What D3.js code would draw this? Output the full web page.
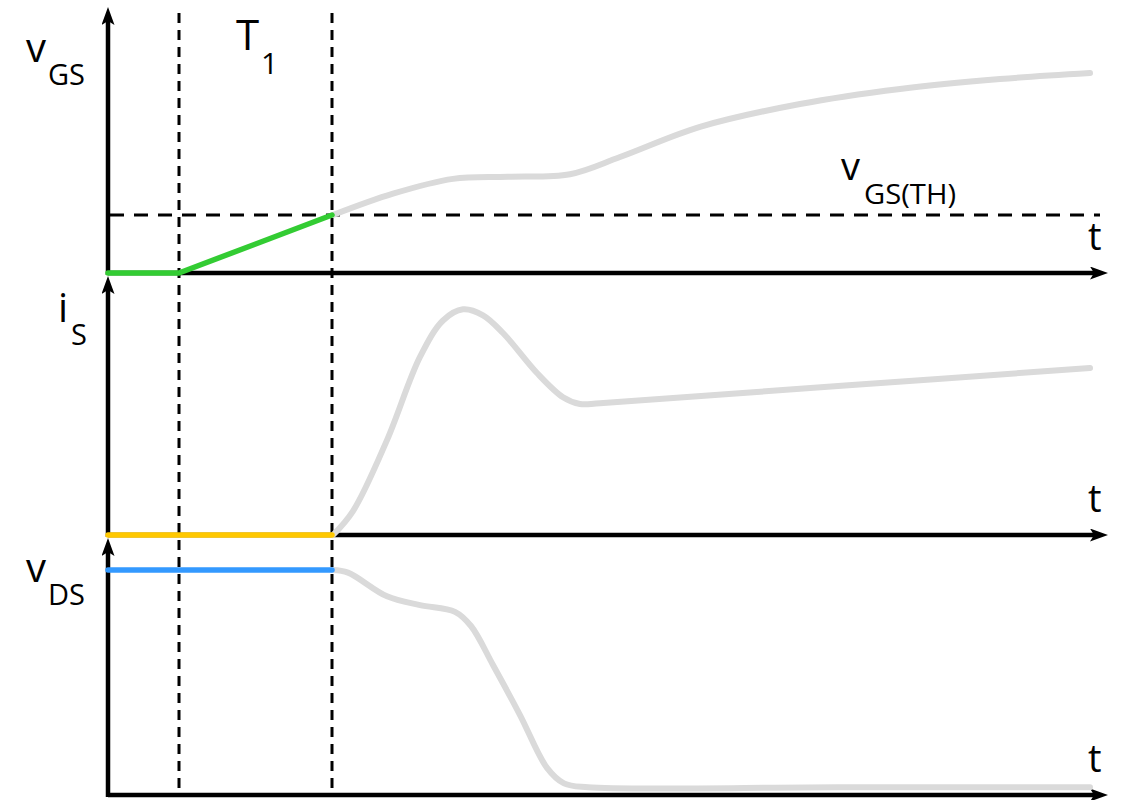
<!DOCTYPE html>
<html>
<head>
<meta charset="utf-8">
<script src="https://cdn.jsdelivr.net/npm/d3@7"></script>
<style>
  html, body { margin: 0; padding: 0; background: #fff; }
  svg { display: block; }
  text { font-family: "Open Sans", sans-serif; fill: #000; }
</style>
</head>
<body>
<svg id="chart" width="1123" height="800"></svg>
<script>
// Time axis (arbitrary units) and turn-on interval markers
const timeDomain = [0, 100];
const tStart = 7.1;    // start of T1
const tEnd = 22.4;     // end of T1
const vThreshold = 2.23;

// Gate-source voltage: highlighted portion during T1, then the rest of the transition
const vgsActive = [[0, 0], [7.1, 0], [22.4, 2.23]];
const vgsRest = [
  [22.5, 2.23], [28.5, 3.05], [34.5, 3.62], [40.0, 3.70], [46.2, 3.80],
  [51.2, 4.46], [59.2, 5.62], [69.2, 6.50], [79.2, 7.08], [89.2, 7.46], [98.2, 7.69]
];

// Source current
const isActive = [[0, 0], [22.4, 0]];
const isRest = [
  [22.5, 0], [24.5, 0.92], [27.9, 3.65], [31.2, 6.85], [33.5, 8.25], [35.5, 8.68],
  [37.5, 8.45], [39.5, 7.77], [42.9, 6.23], [45.5, 5.30], [47.2, 5.04], [49.2, 5.07],
  [73.7, 5.75], [98.2, 6.42]
];

// Drain-source voltage
const vdsActive = [[0, 8.72], [22.4, 8.72]];
const vdsRest = [
  [22.5, 8.72], [24.0, 8.62], [27.9, 7.70], [31.2, 7.36], [34.7, 7.10], [36.3, 6.55],
  [38.5, 5.04], [41.2, 3.10], [43.9, 1.05], [45.6, 0.45], [48.0, 0.30], [73.0, 0.30],
  [98.2, 0.30]
];

const svg = d3.select("#chart");

const x = d3.scaleLinear().domain(timeDomain).range([108, 1108]);
const yGS = d3.scaleLinear().domain([0, 10]).range([273, 13]);
const yIS = d3.scaleLinear().domain([0, 10]).range([535, 275]);
const yDS = d3.scaleLinear().domain([0, 10]).range([795, 537]);

// Arrowhead marker: tip sits 12px beyond the end of the axis line
const ARROW_EXT = 12;
const defs = svg.append("defs");
defs.append("marker")
  .attr("id", "arrow")
  .attr("viewBox", "0 0 18 13")
  .attr("refX", 18 - ARROW_EXT).attr("refY", 6.5)
  .attr("markerWidth", 18).attr("markerHeight", 13)
  .attr("markerUnits", "userSpaceOnUse")
  .attr("orient", "auto")
  .append("path")
  .attr("d", "M0,0 L18,6.5 L0,13 L4,6.5 Z")
  .attr("fill", "#000");

// Dashed guides: T1 boundaries and threshold level
const guides = svg.append("g").attr("stroke", "#000").attr("fill", "none");
[tStart, tEnd].forEach(t => {
  guides.append("line")
    .attr("x1", x(t)).attr("x2", x(t))
    .attr("y1", 13).attr("y2", 795)
    .attr("stroke-width", 3)
    .attr("stroke-dasharray", "10 7");
});
guides.append("line")
  .attr("x1", 110).attr("x2", 1100)
  .attr("y1", yGS(vThreshold)).attr("y2", yGS(vThreshold))
  .attr("stroke-width", 3)
  .attr("stroke-dasharray", "14 10");

// Axes without ticks; each panel has a time axis and a vertical axis
const panels = [[yGS, 7], [yIS, 276], [yDS, 538]];
panels.forEach(([y, tipY]) => {
  const gx = svg.append("g")
    .attr("transform", `translate(0,${y(0)})`)
    .call(d3.axisBottom(x).tickValues([]).tickSizeOuter(0));
  gx.select(".domain")
    .attr("stroke", "#000").attr("stroke-width", 4.5)
    .attr("d", `M${x(0)},0H${x(100) - ARROW_EXT}`)
    .attr("marker-end", "url(#arrow)");

  const gy = svg.append("g")
    .attr("transform", `translate(${x(0)},0)`)
    .call(d3.axisLeft(y).tickValues([]).tickSizeOuter(0));
  gy.select(".domain")
    .attr("stroke", "#000").attr("stroke-width", 4.5)
    .attr("d", `M0,${y(0) + 2}V${tipY + ARROW_EXT}`)
    .attr("marker-end", "url(#arrow)");
});

const lineOf = (y, curve) => d3.line()
  .x(d => x(d[0]))
  .y(d => y(d[1]))
  .curve(curve);

// Remaining transition in grey
const grey = "#dadada";
[[vgsRest, yGS], [isRest, yIS], [vdsRest, yDS]].forEach(([data, y]) => {
  svg.append("path")
    .datum(data)
    .attr("d", lineOf(y, d3.curveCatmullRom.alpha(0.5)))
    .attr("fill", "none")
    .attr("stroke", grey)
    .attr("stroke-width", 6)
    .attr("stroke-linecap", "round")
    .attr("stroke-linejoin", "round");
});

// Highlighted waveforms during T1
[[vgsActive, yGS, "#33cc33"], [isActive, yIS, "#ffc800"], [vdsActive, yDS, "#3399ff"]]
  .forEach(([data, y, color]) => {
    svg.append("path")
      .datum(data)
      .attr("d", lineOf(y, d3.curveLinear))
      .attr("fill", "none")
      .attr("stroke", color)
      .attr("stroke-width", 5.5)
      .attr("stroke-linecap", "round")
      .attr("stroke-linejoin", "round");
  });

// Labels
const label = (px, py, main, sub, subDx, subDy, mainSize, subSize, subLen) => {
  svg.append("text").attr("x", px).attr("y", py).style("font-size", mainSize + "px").text(main);
  const s = svg.append("text")
    .attr("x", px + subDx).attr("y", py + subDy)
    .style("font-size", subSize + "px")
    .text(sub);
  if (subLen) s.attr("textLength", subLen).attr("lengthAdjust", "spacingAndGlyphs");
};

label(26, 62, "v", "GS", 22, 23, 40, 29);
label(236, 50, "T", "1", 25, 24, 42, 30);
label(58, 322, "i", "S", 13, 23, 40, 29);
label(26, 582, "v", "DS", 22, 23, 40, 29);
label(841, 180, "v", "GS(TH)", 23, 24, 38, 27, 92);

[250, 512, 772].forEach(by => {
  svg.append("text").attr("x", 1088).attr("y", by).style("font-size", "38px").text("t");
});
</script>
</body>
</html>
